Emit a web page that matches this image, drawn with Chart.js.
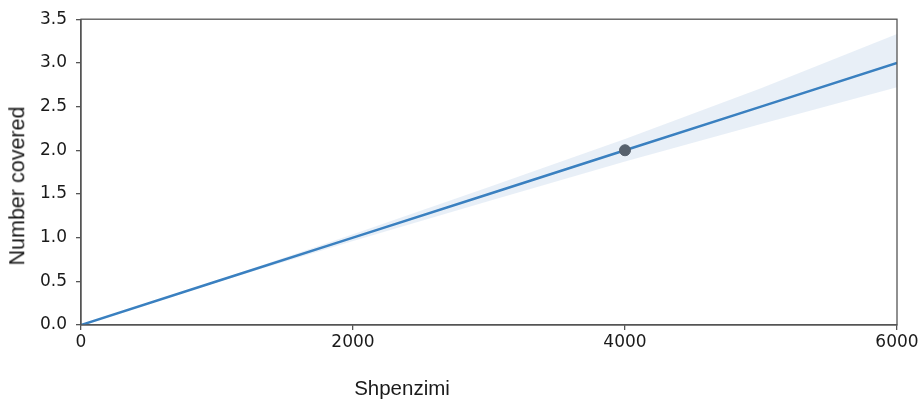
<!DOCTYPE html>
<html>
<head>
<meta charset="utf-8">
<script src="https://cdn.jsdelivr.net/npm/chart.js@4"></script>
<style>
  html, body { margin: 0; padding: 0; background: #fff; }
  #wrap { position: relative; width: 923px; height: 404px; }
  .ttl { position: absolute; font-family: "Liberation Sans", Arial, sans-serif; color: #1a1a1a; white-space: nowrap; line-height: 1; }
  #xtitle { left: 402px; top: 388px; transform: translate(-50%, -50%); font-size: 20.5px; }
  #ytitle { left: 18px; top: 186px; transform: translate(-50%, -50%) rotate(-90deg); font-size: 21.5px; }
</style>
</head>
<body>
<div id="wrap">
  <canvas id="c" width="923" height="404"></canvas>
  <div id="xtitle" class="ttl"></div>
  <div id="ytitle" class="ttl"></div>
</div>
<script>
const xValues   = [0, 1000, 2000, 3000, 4000, 5000, 6000];
const fitLine   = [0, 0.5, 1.0, 1.5, 2.0, 2.5, 3.0];
const bandUpper = [0, 0.51, 1.04, 1.58, 2.13, 2.71, 3.33];
const bandLower = [0, 0.49, 0.96, 1.42, 1.87, 2.30, 2.72];
const observedX = [4000];
const observedY = [2.0];
const xTicks = [0, 2000, 4000, 6000];
const yTicks = [0, 0.5, 1.0, 1.5, 2.0, 2.5, 3.0, 3.5];
const xTitle = "Shpenzimi";
const yTitle = "Number covered";

document.getElementById('xtitle').textContent = xTitle;
document.getElementById('ytitle').textContent = yTitle;

const toPts = (xs, ys) => xs.map((x, i) => ({x: x, y: ys[i]}));

const boxPlugin = {
  id: 'box',
  afterDraw(chart) {
    const {ctx, chartArea: a} = chart;
    ctx.save();
    ctx.strokeStyle = '#555';
    ctx.lineWidth = 1.3;
    ctx.strokeRect(a.left, a.top, a.right - a.left, a.bottom - a.top);
    ctx.restore();
  }
};

new Chart(document.getElementById('c'), {
  type: 'line',
  data: {
    datasets: [
      { label: 'lower', data: toPts(xValues, bandLower), borderWidth: 0, pointRadius: 0,
        borderColor: 'rgba(0,0,0,0)', fill: false, order: 3 },
      { label: 'upper', data: toPts(xValues, bandUpper), borderWidth: 0, pointRadius: 0,
        borderColor: 'rgba(0,0,0,0)', backgroundColor: 'rgba(214,226,240,0.55)', fill: 0, order: 2 },
      { label: 'fit', data: toPts(xValues, fitLine), borderColor: '#3a80c0', borderWidth: 2.5,
        pointRadius: 0, fill: false, order: 1 },
      { label: 'obs', data: toPts(observedX, observedY), showLine: false, pointRadius: 5.5,
        pointBackgroundColor: '#56606c', pointBorderColor: '#56606c', order: 0 }
    ]
  },
  options: {
    responsive: false,
    animation: false,
    layout: { padding: { left: 0, right: 26, top: 19, bottom: 0 } },
    plugins: { legend: { display: false }, tooltip: { enabled: false } },
    scales: {
      x: {
        type: 'linear', min: xTicks[0], max: xTicks[xTicks.length - 1],
        afterBuildTicks: (s) => { s.ticks = xTicks.map(v => ({value: v})); },
        ticks: { callback: (v) => String(v), color: '#1a1a1a', padding: 2,
                 font: { family: 'DejaVu Sans', size: 17 }, maxRotation: 0 },
        grid: { display: true, drawOnChartArea: false, drawTicks: true, tickLength: 5, color: '#555', lineWidth: 1.3 },
        border: { display: true, color: '#555', width: 1.3 },
        afterFit: (s) => { s.height = 79; }
      },
      y: {
        type: 'linear', min: yTicks[0], max: yTicks[yTicks.length - 1],
        afterBuildTicks: (s) => { s.ticks = yTicks.map(v => ({value: v})); },
        ticks: { callback: (v) => v.toFixed(1), color: '#1a1a1a', padding: 9,
                 font: { family: 'DejaVu Sans', size: 17 } },
        grid: { display: true, drawOnChartArea: false, drawTicks: true, tickLength: 5, color: '#555', lineWidth: 1.3 },
        border: { display: true, color: '#555', width: 1.3 },
        afterFit: (s) => { s.width = 81; }
      }
    }
  },
  plugins: [boxPlugin]
});
</script>
</body>
</html>
